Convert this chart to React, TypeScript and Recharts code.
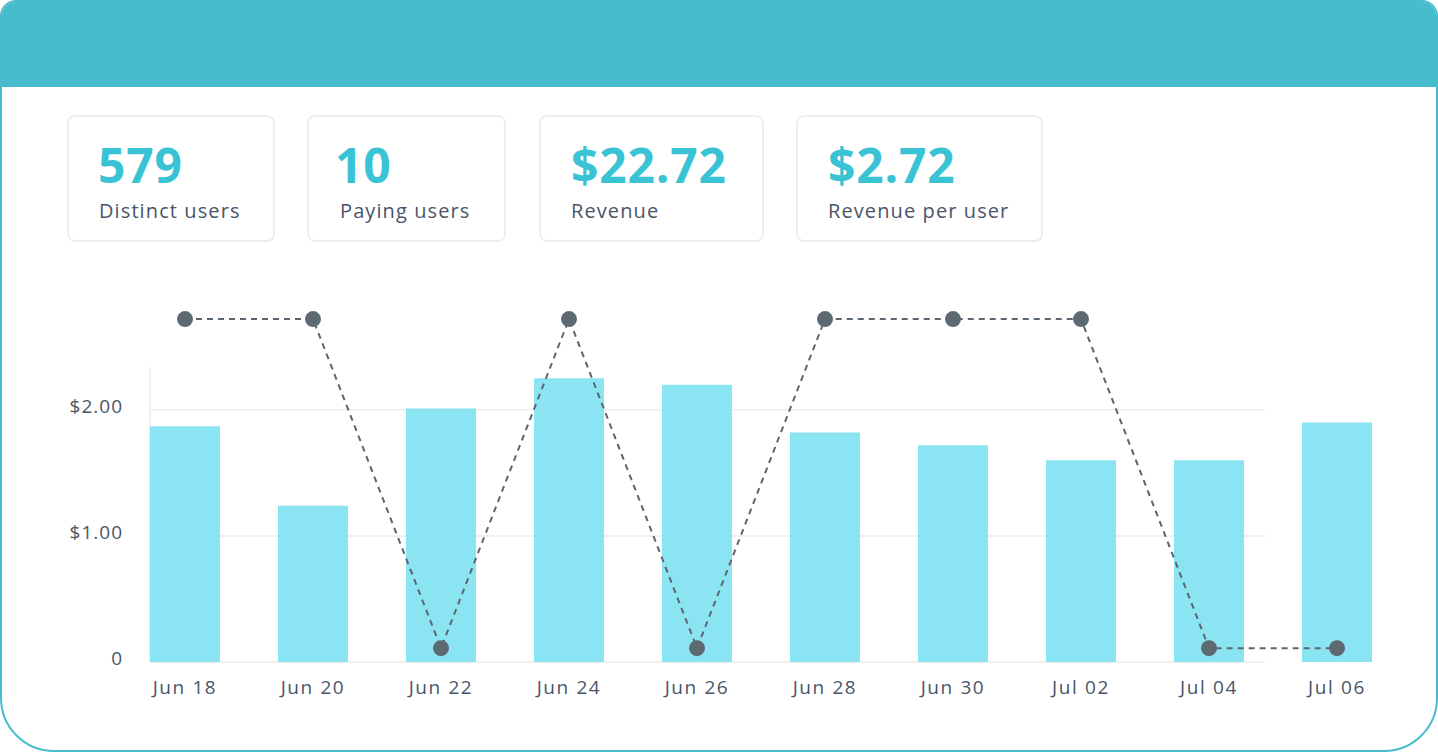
import React from 'react';
import { ComposedChart, Bar, Line, XAxis, YAxis, CartesianGrid } from 'recharts';

const categories = ['Jun 18', 'Jun 20', 'Jun 22', 'Jun 24', 'Jun 26', 'Jun 28', 'Jun 30', 'Jul 02', 'Jul 04', 'Jul 06'];
const revenuePerDay = [1.87, 1.24, 2.01, 2.25, 2.2, 1.82, 1.72, 1.6, 1.6, 1.9];
const payingMarker = [2.72, 2.72, 0.11, 2.72, 0.11, 2.72, 2.72, 2.72, 0.11, 0.11];
const yTicks = [0, 1, 2];

const statValues = ['579', '10', '$22.72', '$2.72'];
const statLabels = ['Distinct users', 'Paying users', 'Revenue', 'Revenue per user'];

const data = categories.map((c, i) => ({ day: c, revenue: revenuePerDay[i], marker: payingMarker[i] }));

const statBoxes = [
  { left: 67, width: 208, numLeft: 29, labelLeft: 30 },
  { left: 307, width: 199, numLeft: 26, labelLeft: 31 },
  { left: 539, width: 225, numLeft: 30, labelLeft: 30 },
  { left: 796, width: 247, numLeft: 30, labelLeft: 30 },
];

const TEAL = '#47bccd';
const TEXT = '#4a5568';
const FONT = '"Open Sans", "DejaVu Sans", sans-serif';

const fmt = (v: number) => (v === 0 ? '0' : `$${v.toFixed(2)}`);

export default function App() {
  return (
    <div
      style={{
        position: 'absolute',
        left: 0,
        top: 0,
        width: 1438,
        height: 752,
        boxSizing: 'border-box',
        border: `2px solid ${TEAL}`,
        borderRadius: '16px 16px 54px 54px',
        overflow: 'hidden',
        background: '#fff',
        fontFamily: FONT,
      }}
    >
      <div style={{ position: 'absolute', left: -2, top: -2, width: 1438, height: 87, background: TEAL }} />
      {statBoxes.map((b, i) => (
        <div
          key={i}
          style={{
            position: 'absolute',
            left: b.left - 2,
            top: 113,
            width: b.width,
            height: 127,
            boxSizing: 'border-box',
            border: '2px solid #eeeeee',
            borderRadius: 8,
          }}
        >
          <span
            style={{
              position: 'absolute',
              left: b.numLeft,
              top: 24,
              fontSize: 48,
              lineHeight: 1,
              fontWeight: 700,
              letterSpacing: 0.8,
              color: '#3ac3d5',
              whiteSpace: 'nowrap',
            }}
          >
            {statValues[i]}
          </span>
          <span
            style={{
              position: 'absolute',
              left: b.labelLeft,
              top: 84,
              fontSize: 20,
              lineHeight: 1,
              color: TEXT,
              whiteSpace: 'nowrap',
              letterSpacing: 1.1,
            }}
          >
            {statLabels[i]}
          </span>
        </div>
      ))}
      <div style={{ position: 'absolute', left: -2, top: -2 }}>
        <ComposedChart width={1438} height={752} data={data} margin={{ top: 309, right: 37, bottom: 60, left: 0 }}>
          <CartesianGrid
            x={150}
            y={367}
            width={1115}
            height={295}
            verticalPoints={[150]}
            horizontalValues={yTicks}
            syncWithTicks
            stroke="#f0f0f0"
            strokeWidth={2}
          />
          <XAxis
            dataKey="day"
            axisLine={false}
            tickLine={false}
            tickSize={0}
            tickMargin={19}
            height={30}
            interval={0}
            tick={{ fill: TEXT, fontSize: 19, fontFamily: FONT, letterSpacing: 1.6 }}
          />
          <YAxis
            width={121}
            domain={[0, 2.8]}
            ticks={yTicks}
            tickFormatter={fmt}
            axisLine={false}
            tickLine={false}
            tickSize={0}
            tickMargin={-2}
            tick={{ fill: TEXT, fontSize: 19, fontFamily: FONT, letterSpacing: 1, dy: -4 }}
          />
          <Bar dataKey="revenue" fill="#8ae4f2" barSize={70} isAnimationActive={false} />
          <Line
            type="linear"
            dataKey="marker"
            stroke="#5b6670"
            strokeWidth={2}
            strokeDasharray="6 5"
            dot={{ r: 8, fill: '#5e6a72', stroke: 'none' }}
            activeDot={false}
            isAnimationActive={false}
          />
        </ComposedChart>
      </div>
    </div>
  );
}
